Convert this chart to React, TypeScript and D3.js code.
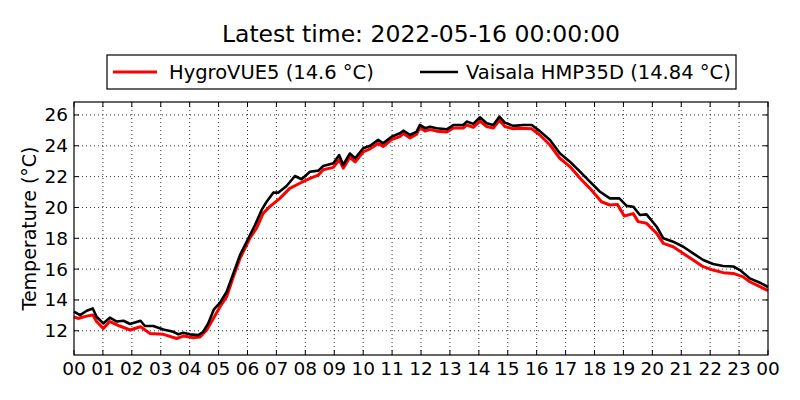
import React from "react";
import * as d3 from "d3";

const title = "Latest time: 2022-05-16 00:00:00";
const yLabel = "Temperature (°C)";
const seriesNames = ["HygroVUE5 (14.6 °C)", "Vaisala HMP35D (14.84 °C)"];
const seriesColors = ["#ff0000", "#000000"];

const xTickLabels = ["00","01","02","03","04","05","06","07","08","09","10","11","12","13","14","15","16","17","18","19","20","21","22","23","00"];
const yTicks = [12, 14, 16, 18, 20, 22, 24, 26];

const hygroHours = [0.0,0.14,0.44,0.65,0.78,1.01,1.24,1.58,1.94,2.3,2.63,3.09,3.55,3.78,4.13,4.36,4.59,4.82,5.05,5.28,5.51,5.74,6.08,6.31,6.54,6.77,7.12,7.46,7.81,8.16,8.45,8.62,8.97,9.17,9.31,9.54,9.72,10.0,10.24,10.52,10.69,10.98,11.27,11.39,11.62,11.85,11.96,12.14,12.31,12.54,12.89,13.12,13.46,13.58,13.81,14.04,14.27,14.5,14.71,14.9,15.19,15.42,15.83,16.11,16.46,16.8,17.15,17.5,17.84,18.24,18.53,18.79,19.03,19.34,19.51,19.8,20.15,20.38,20.72,21.07,21.41,21.76,22.1,22.45,22.8,23.14,23.37,23.72,24.0];
const hygroTemp = [12.91,12.8,12.95,13.02,12.6,12.16,12.6,12.31,12.05,12.26,11.83,11.77,11.5,11.66,11.55,11.6,12.05,12.8,13.56,14.21,15.5,16.69,18.0,18.65,19.62,20.05,20.59,21.24,21.57,21.89,22.1,22.45,22.6,23.1,22.55,23.25,22.95,23.6,23.8,24.15,23.95,24.4,24.6,24.8,24.5,24.75,25.2,24.95,25.05,24.95,24.9,25.15,25.15,25.35,25.2,25.6,25.25,25.15,25.65,25.25,25.1,25.14,25.1,24.7,24.05,23.19,22.65,21.89,21.24,20.37,20.16,20.2,19.45,19.6,19.08,18.97,18.32,17.67,17.45,17.02,16.59,16.16,15.94,15.77,15.72,15.5,15.18,14.86,14.6];

const vaisalaHours = [0.0,0.21,0.44,0.65,0.78,1.01,1.24,1.48,1.71,1.94,2.3,2.45,2.74,3.09,3.43,3.61,3.78,4.01,4.3,4.47,4.64,4.84,5.05,5.28,5.51,5.74,6.03,6.26,6.49,6.66,6.89,7.06,7.35,7.64,7.87,8.16,8.45,8.62,8.97,9.17,9.31,9.54,9.72,10.0,10.24,10.52,10.69,10.98,11.27,11.39,11.62,11.85,11.96,12.14,12.31,12.54,12.89,13.12,13.46,13.58,13.81,14.04,14.27,14.5,14.71,14.9,15.19,15.54,15.83,16.11,16.46,16.8,17.15,17.5,17.84,18.19,18.53,18.86,19.11,19.34,19.57,19.8,20.15,20.38,20.72,21.07,21.41,21.76,22.1,22.45,22.8,23.03,23.37,23.72,24.0];
const vaisalaTemp = [13.25,13.02,13.3,13.45,12.91,12.48,12.85,12.6,12.65,12.44,12.65,12.31,12.31,12.09,11.94,11.77,11.87,11.77,11.72,11.94,12.48,13.39,13.82,14.53,15.72,16.91,18.0,18.86,19.84,20.37,20.96,20.96,21.39,22.04,21.83,22.32,22.39,22.69,22.87,23.4,22.76,23.5,23.19,23.84,24.0,24.38,24.16,24.59,24.81,24.98,24.7,24.92,25.35,25.14,25.24,25.14,25.07,25.35,25.35,25.57,25.42,25.85,25.46,25.35,25.89,25.5,25.29,25.35,25.35,24.95,24.38,23.51,22.97,22.32,21.67,21.02,20.59,20.59,20.1,20.05,19.51,19.55,18.75,18.0,17.78,17.45,17.02,16.59,16.33,16.2,16.17,15.94,15.4,15.12,14.84];

const W = 800, H = 400;
const L = 74, R = 768, T = 102, B = 355;
const FONT = "DejaVu Sans, sans-serif";

export default function App() {
  const x = d3.scaleLinear().domain([0, 24]).range([L, R]);
  const y = d3.scaleLinear().domain([10.43, 26.84]).range([B, T]);
  const line = d3.line<[number, number]>().x(d => x(d[0])).y(d => y(d[1]));
  const hygro = hygroHours.map((h, i) => [h, hygroTemp[i]] as [number, number]);
  const vais = vaisalaHours.map((h, i) => [h, vaisalaTemp[i]] as [number, number]);
  const xTicks = xTickLabels.map((_, i) => i);
  const tl = 5;
  return (
    <svg width={W} height={H} style={{ position: "absolute", left: 0, top: 0, background: "#fff" }} fontFamily={FONT}>
      <rect x={0} y={0} width={W} height={H} fill="#fff" />
      <text x={(L + R) / 2} y={42} textAnchor="middle" fontSize={23.5}>{title}</text>
      {/* grid */}
      {xTicks.slice(1, -1).map(t => (
        <line key={"gx" + t} x1={x(t)} x2={x(t)} y1={T} y2={B} stroke="#000" strokeWidth={0.8} strokeDasharray="1,3" />
      ))}
      {yTicks.map(t => (
        <line key={"gy" + t} x1={L} x2={R} y1={y(t)} y2={y(t)} stroke="#000" strokeWidth={0.8} strokeDasharray="1,3" />
      ))}
      {/* data */}
      <path d={line(hygro) || ""} fill="none" stroke={seriesColors[0]} strokeWidth={3} strokeLinejoin="round" />
      <path d={line(vais) || ""} fill="none" stroke={seriesColors[1]} strokeWidth={2.6} strokeLinejoin="round" />
      {/* ticks */}
      {xTicks.map(t => (
        <g key={"tx" + t}>
          <line x1={x(t)} x2={x(t)} y1={B} y2={B - tl} stroke="#000" />
          <line x1={x(t)} x2={x(t)} y1={T} y2={T + tl} stroke="#000" />
          <text x={x(t)} y={375} textAnchor="middle" fontSize={18.5}>{xTickLabels[t]}</text>
        </g>
      ))}
      {yTicks.map(t => (
        <g key={"ty" + t}>
          <line x1={L} x2={L + tl} y1={y(t)} y2={y(t)} stroke="#000" />
          <line x1={R} x2={R - tl} y1={y(t)} y2={y(t)} stroke="#000" />
          <text x={L - 6} y={y(t) + 6.5} textAnchor="end" fontSize={18.5}>{t}</text>
        </g>
      ))}
      <rect x={L} y={T} width={R - L} height={B - T} fill="none" stroke="#000" strokeWidth={1.2} />
      <text transform={`translate(36,${(T + B) / 2}) rotate(-90)`} textAnchor="middle" fontSize={19}>{yLabel}</text>
      {/* legend */}
      <rect x={107} y={55} width={629} height={34} fill="#fff" stroke="#000" strokeWidth={1.2} />
      <line x1={113} x2={157} y1={72} y2={72} stroke={seriesColors[0]} strokeWidth={3} />
      <text x={169} y={79} fontSize={19.5}>{seriesNames[0]}</text>
      <line x1={420} x2={458} y1={72} y2={72} stroke={seriesColors[1]} strokeWidth={2.6} />
      <text x={466} y={79} fontSize={19.5}>{seriesNames[1]}</text>
    </svg>
  );
}
